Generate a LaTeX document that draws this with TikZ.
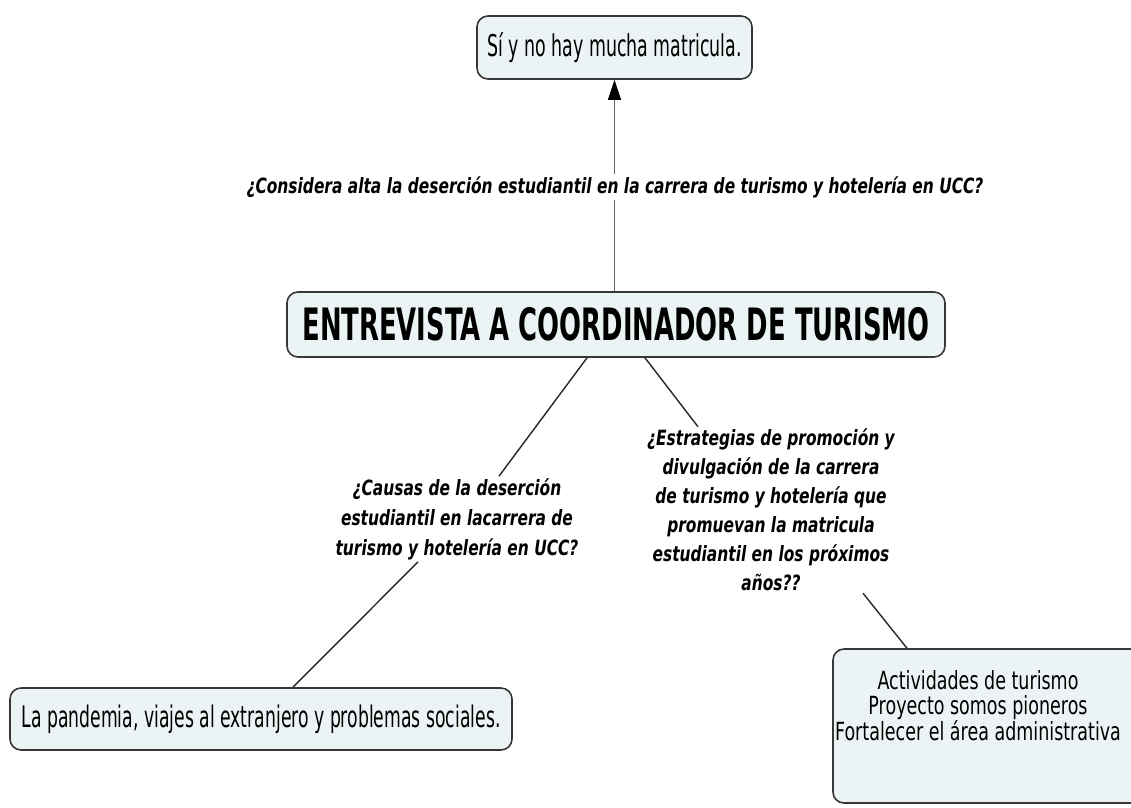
\documentclass[tikz,border=0pt]{standalone}
\usepackage{fontspec}
\setmainfont{DejaVu Sans}[FakeStretch=0.58]
\newfontfamily\labelfont{DejaVu Sans}[FakeStretch=0.735]
\newfontfamily\listfont{DejaVu Sans}[FakeStretch=0.70]
\usetikzlibrary{arrows.meta}
\definecolor{boxfill}{RGB}{236,243,245}
\definecolor{boxdraw}{RGB}{55,55,55}
\definecolor{linkgray}{RGB}{95,95,95}
\begin{document}
\begin{tikzpicture}[x=1pt,y=-1pt,
  conbox/.style={draw=boxdraw, line width=1.6pt, fill=boxfill, rounded corners=11pt, inner sep=0pt, align=center},
  qlabel/.style={inner sep=2pt, align=center, font=\labelfont\bfseries\itshape\fontsize{21}{29}\selectfont},
  link/.style={draw=black!85, line width=1.4pt},
  uplink/.style={draw=linkgray, line width=1.1pt}
]
\useasboundingbox (0,0) rectangle (1131,807);
\fill[white] (0,0) rectangle (1131,807);

\node[conbox, minimum width=275pt, minimum height=63pt, font=\fontsize{30}{36}\selectfont] (top) at (614.5,47.5) {Sí y no hay mucha matricula.};
\node[conbox, minimum width=658pt, minimum height=65pt, font=\bfseries\fontsize{44.6}{50}\selectfont] (main) at (616,324.5) {ENTREVISTA A COORDINADOR DE TURISMO};
\node[conbox, minimum width=502pt, minimum height=62pt, font=\fontsize{29.7}{34}\selectfont] (bl) at (261,719) {La pandemia, viajes al extranjero y problemas sociales.};
\node[conbox, minimum width=310pt, minimum height=154pt] (br) at (988,726) {};
\node[align=center, inner sep=0pt, font=\listfont\fontsize{25}{25}\selectfont] (brt) at (978,706) {Actividades de turismo\\Proyecto somos pioneros\\Fortalecer el área administrativa};

\node[qlabel] (q1) at (615,187) {¿Considera alta la deserción estudiantil en la carrera de turismo y hotelería en UCC?};
\node[qlabel, font=\labelfont\bfseries\itshape\fontsize{21}{30}\selectfont] (q2) at (457,519) {¿Causas de la deserción\\estudiantil en lacarrera de\\turismo y hotelería en UCC?};
\node[qlabel] (q3) at (771,510) {¿Estrategias de promoción y\\divulgación de la carrera\\de turismo y hotelería que\\promuevan la matricula\\estudiantil en los próximos\\años??};

\draw[uplink] (q1.south -| top.south) -- (main.north -| top.south);
\draw[uplink, -{Triangle[length=20pt,width=13pt,color=black]}] (q1.north -| top.south) -- (top.south);
\draw[link] (main.229) -- ([xshift=42pt]q2.north);
\draw[link] ([xshift=-39pt]q2.south) -- ([xshift=32pt]bl.north);
\draw[link] ([xshift=29pt]main.south) -- ([xshift=-73pt]q3.north);
\draw[link] ([xshift=92pt]q3.south) -- ([xshift=-81pt]br.north);
\end{tikzpicture}
\end{document}
